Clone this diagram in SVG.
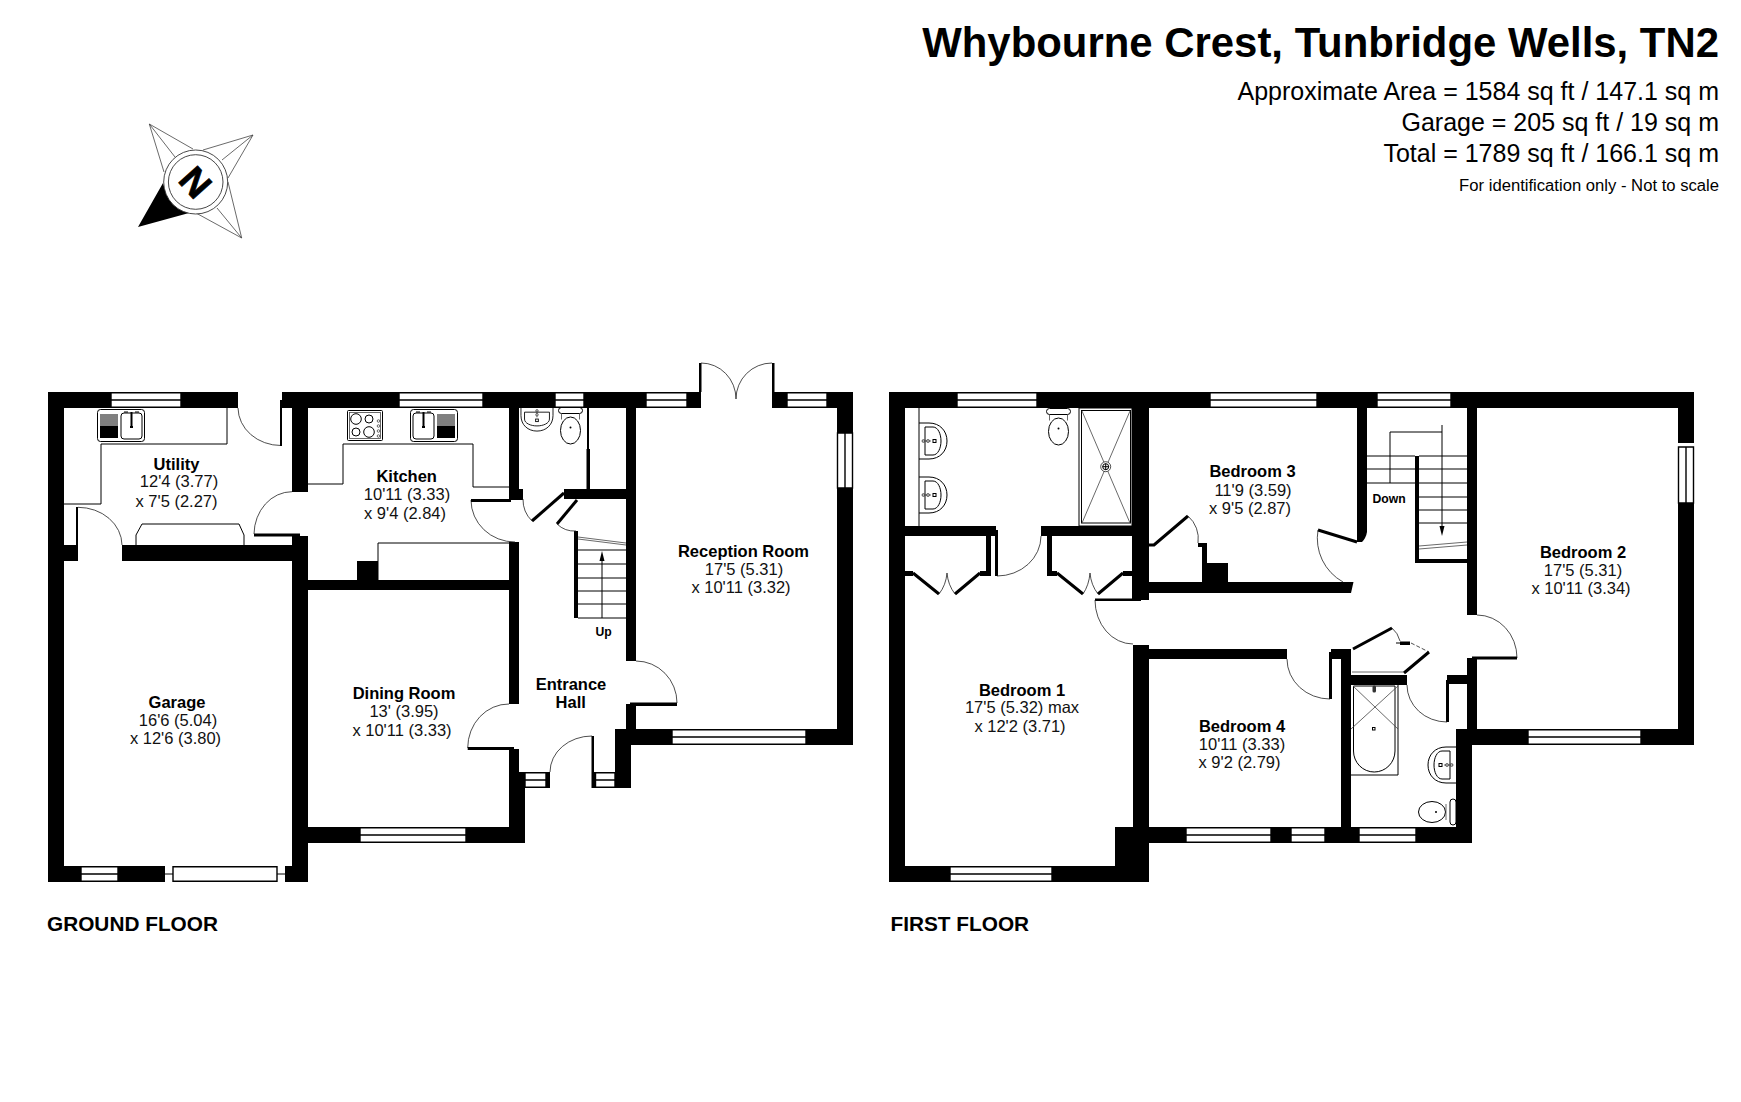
<svg xmlns="http://www.w3.org/2000/svg" xmlns:xlink="http://www.w3.org/1999/xlink" width="1741" height="1102" viewBox="0 0 1741 1102">
<style>
text{font-family:"Liberation Sans",Arial,sans-serif;fill:#000}
.n{font-weight:700;font-size:16.5px;text-anchor:middle}
.d{font-size:16.5px;text-anchor:middle;fill:#111}
.s{font-weight:700;font-size:12.2px;text-anchor:middle}
.f{font-weight:700;font-size:20.8px}
.r{text-anchor:end}
.wall{fill:#000}
.win{fill:#fff;stroke:#000;stroke-width:1.4}
.t{fill:none;stroke:#000;stroke-width:1}
.a{fill:none;stroke:#222;stroke-width:.8}
.g{fill:none;stroke:#444;stroke-width:.8}
.l{fill:none;stroke:#000;stroke-width:3}
</style>
<defs>
<g id="sink">
<rect class="t" x=".5" y=".5" width="47" height="32" rx="3"/>
<path class="t" d="M3 6H21M3 8H21M3 10H21M3 12H21M3 14H21M3 16H21"/>
<rect x="3" y="17" width="18" height="12" fill="#000"/>
<rect class="t" x="24" y="4" width="21" height="26" rx="3"/>
<path d="M34.500 3V18" stroke="#000" stroke-width="2" fill="none"/>
<path class="t" d="M27 3H31M38 3H42"/>
<rect x="33" y="17" width="3" height="2" fill="#000"/>
</g>
<g id="basin">
<path class="t" d="M0 0H10C21 0 28 8 28 18C28 28 21 36 10 36H0"/>
<path class="t" d="M6 4H14C19 4 22 11 22 18C22 25 19 32 14 32H6Z"/>
<path class="g" d="M3 18H12"/>
<circle class="g" cx="4.500" cy="18" r="1.500"/>
<circle class="g" cx="9" cy="18" r="1.500"/>
<rect class="t" x="14" y="16.500" width="3" height="3"/>
</g>
<g id="toilet">
<rect class="t" x="-12" y="0" width="24" height="6" rx="3"/>
<path class="g" d="M-9 6V12M9 6V12"/>
<ellipse class="t" cx="0" cy="23" rx="10" ry="13.500"/>
<circle cx="0" cy="20" r="1" fill="#000"/>
</g>
</defs>
<rect width="1741" height="1102" fill="#fff"/>

<g id="title">
<text x="1719" y="57" class="r" font-size="41.900" font-weight="700">Whybourne Crest, Tunbridge Wells, TN2</text>
<text x="1719" y="100" class="r" font-size="25">Approximate Area = 1584 sq ft / 147.1 sq m</text>
<text x="1719" y="131" class="r" font-size="25">Garage = 205 sq ft / 19 sq m</text>
<text x="1719" y="161.500" class="r" font-size="25">Total = 1789 sq ft / 166.1 sq m</text>
<text x="1719" y="190.500" class="r" font-size="16.650">For identification only - Not to scale</text>
</g>

<g id="compass">
<path class="g" d="M149.300 124L164 172M149.300 124L193 149M149.300 124L175 157M253 135L203 150M253 135L228 178M253 135L222 160M241.700 238L228 182M241.700 238L196 213M241.700 238L217 208"/>
<path d="M138 227L163 183C166 197 174 208 189 213Z" fill="#000"/>
<circle cx="195.700" cy="182" r="32" fill="#fff" stroke="#333" stroke-width=".9"/>
<circle cx="195.700" cy="182" r="27.300" fill="none" stroke="#333" stroke-width=".9"/>
<text transform="translate(196 182) rotate(48)" x="0" y="13.500" font-size="37" font-weight="700" text-anchor="middle" stroke="#000" stroke-width=".8">N</text>
</g>

<g id="ground-floor">
<g id="gf-walls" class="wall">
<rect x="48" y="392" width="190" height="16"/>
<rect x="282" y="392" width="419" height="16"/>
<rect x="772" y="392" width="81" height="16"/>
<rect x="48" y="392" width="16" height="490"/>
<rect x="48" y="866" width="117" height="16"/>
<rect x="285" y="866" width="23" height="16"/>
<rect x="292" y="536" width="16" height="346"/>
<rect x="292" y="392" width="16" height="100"/>
<rect x="122" y="545" width="176" height="16"/>
<rect x="64" y="545" width="14" height="16"/>
<rect x="308" y="827" width="217" height="16"/>
<rect x="308" y="580" width="201" height="10"/>
<rect x="357" y="561" width="21" height="21"/>
<rect x="509" y="392" width="10" height="108"/>
<rect x="509" y="489" width="14" height="11"/>
<rect x="509" y="542" width="10" height="162"/>
<rect x="509" y="749" width="10" height="25"/>
<rect x="509" y="772" width="16" height="71"/>
<rect x="626" y="392" width="10" height="269"/>
<rect x="626" y="704" width="10" height="26"/>
<rect x="564" y="489" width="62" height="10"/>
<rect x="615" y="729" width="238" height="16"/>
<rect x="615" y="729" width="16" height="59"/>
<rect x="837" y="392" width="16" height="41"/>
<rect x="837" y="488" width="16" height="257"/>
<rect x="546" y="772" width="4" height="16"/>
<rect x="591.500" y="772" width="4" height="16"/>
<rect x="574" y="531" width="4" height="87"/>
<rect x="586.500" y="449" width="3.500" height="40"/>
</g>
<g id="gf-windows">
<path class="win" d="M111 392.700H181V407.300H111ZM111 400H181"/>
<path class="win" d="M399 392.700H483V407.300H399ZM399 400H483"/>
<path class="win" d="M555 392.700H584V407.300H555ZM555 400H584"/>
<path class="win" d="M646 392.700H687V407.300H646ZM646 400H687"/>
<path class="win" d="M787 392.700H827V407.300H787ZM787 400H827"/>
<path class="win" d="M837.500 433H852.500V488H837.500ZM845 433V488"/>
<path class="win" d="M672 729.700H806V744.300H672ZM672 737H806"/>
<path class="win" d="M360 827.700H466V842.300H360ZM360 835H466"/>
<path class="win" d="M81 866.700H118V881.300H81ZM81 874H118"/>
<path class="win" d="M525 772.700H546V787.300H525ZM525 780H546"/>
<path class="win" d="M595.500 772.700H615V787.300H595.500ZM595.500 780H615"/>
<path class="win" d="M173 866.700H277V881.300H173Z"/>
<path class="t" d="M165 874H173M277 874H285"/>
</g>
<g id="gf-doors">
<path class="a" d="M78 507.300A44 38 0 0 1 122 545"/>
<path d="M76 507V546H78V507Z" fill="#000"/>
<path class="a" d="M238 408A43 38 0 0 0 281 445.500"/>
<path d="M280 400H282V446H280Z" fill="#000"/>
<path class="a" d="M292 491.700A38 43 0 0 0 254 534"/>
<path d="M254 533.500H300V536.500H254Z" fill="#000"/>
<path class="a" d="M471 500A44 42 0 0 0 515 542"/>
<path d="M471 499H511V502H471Z" fill="#000"/>
<path class="a" d="M509 704A41 44 0 0 0 467.700 748"/>
<path d="M467.700 747H514V750H467.700Z" fill="#000"/>
<path class="a" d="M636 661A41 42 0 0 1 677 703"/>
<path d="M630 702.500H677V706H630Z" fill="#000"/>
<path class="a" d="M550 772A42 36 0 0 1 592 736"/>
<path d="M591.500 736H594V772H591.500Z" fill="#000"/>
<path class="a" d="M701 363A35 36 0 0 1 736 399"/>
<path class="a" d="M772 363A36 36 0 0 0 736 399"/>
<path d="M699 363H701.500V392H699ZM772 363H774.500V398H772Z" fill="#000"/>
<path class="l" d="M564 493L532 521"/>
<path class="a" d="M532 521A30 30 0 0 1 523 499"/>
<path class="l" d="M577 500L557 524"/>
<path class="a" d="M557 524A25 25 0 0 0 576 531"/>
<path d="M587 407.500H589V449H587Z" fill="#000"/>
</g>
<g id="gf-fittings">
<path class="t" d="M64 504H101V444H227V408"/>
<path class="t" d="M136 545V535L142 524H239L244 535V545"/>
<use xlink:href="#sink" href="#sink" x="97" y="409"/>
<path class="t" d="M308 484H343V444H473V487H509"/>
<rect class="t" x="347.500" y="410.500" width="35" height="30" rx="1"/>
<rect class="g" x="349.500" y="412.500" width="31" height="26"/>
<circle class="t" cx="356" cy="419" r="5.300"/>
<circle class="t" cx="369" cy="419" r="4"/>
<circle class="t" cx="356" cy="432" r="4"/>
<circle class="t" cx="369" cy="432" r="5.300"/>
<circle class="g" cx="378.500" cy="421" r="1.300"/>
<circle class="g" cx="378.500" cy="426" r="1.300"/>
<circle class="g" cx="378.500" cy="431" r="1.300"/>
<circle class="g" cx="378.500" cy="436" r="1.300"/>
<use xlink:href="#sink" href="#sink" transform="translate(458 409) scale(-1 1)"/>
<path class="t" d="M378 580V543H509"/>
<use xlink:href="#basin" href="#basin" transform="translate(553 407) rotate(90) scale(.86 .89)"/>
<use xlink:href="#toilet" href="#toilet" x="570.500" y="407.500"/>
</g>
<g id="gf-stairs">
<path class="g" d="M578 537L626 543M578 539L626 545"/>
<path class="t" d="M578 550H626M578 564H626M578 578H626M578 591H626M578 604H626M578 618H626M602 618V555"/>
<path d="M602 551L604.500 561H599.500Z" fill="#000"/>
</g>
<g id="gf-labels">
<text class="n" x="176.500" y="469.700">Utility</text>
<text class="d" x="179" y="487">12'4 (3.77)</text>
<text class="d" x="176.500" y="506.500">x 7'5 (2.27)</text>
<text class="n" x="406.700" y="481.500">Kitchen</text>
<text class="d" x="407" y="499.700">10'11 (3.33)</text>
<text class="d" x="405" y="519">x 9'4 (2.84)</text>
<text class="n" x="177" y="707.700">Garage</text>
<text class="d" x="178" y="725.700">16'6 (5.04)</text>
<text class="d" x="175.500" y="744">x 12'6 (3.80)</text>
<text class="n" x="404" y="698.500">Dining Room</text>
<text class="d" x="404" y="717">13' (3.95)</text>
<text class="d" x="402" y="736">x 10'11 (3.33)</text>
<text class="n" x="743.500" y="556.500">Reception Room</text>
<text class="d" x="744" y="574.700">17'5 (5.31)</text>
<text class="d" x="741" y="593">x 10'11 (3.32)</text>
<text class="n" x="571" y="690">Entrance</text>
<text class="n" x="570.700" y="708">Hall</text>
<text class="s" x="603.700" y="635.500">Up</text>
<text class="f" x="47" y="931">GROUND FLOOR</text>
</g>
</g>

<g id="first-floor">
<g id="ff-walls" class="wall">
<rect x="889" y="392" width="805" height="16"/>
<rect x="889" y="392" width="16" height="490"/>
<rect x="889" y="866" width="260" height="16"/>
<rect x="1133" y="645" width="16" height="237"/>
<rect x="1115" y="827" width="34" height="55"/>
<rect x="1115" y="827" width="357" height="16"/>
<rect x="1678" y="392" width="16" height="51"/>
<rect x="1678" y="503" width="16" height="242"/>
<rect x="1456" y="729" width="238" height="16"/>
<rect x="1467" y="392" width="10" height="223"/>
<rect x="1467" y="658" width="10" height="72"/>
<rect x="1447" y="675" width="20" height="9"/>
<rect x="1446" y="680" width="3" height="42"/>
<rect x="1456" y="729" width="16" height="114"/>
<rect x="1132" y="392" width="17" height="208"/>
<rect x="905" y="526" width="91" height="10"/>
<rect x="1041" y="526" width="91" height="10"/>
<rect x="986" y="536" width="5" height="40"/>
<rect x="995" y="530" width="3" height="46"/>
<rect x="1047" y="536" width="5" height="40"/>
<rect x="905" y="571" width="8" height="5"/>
<rect x="980" y="571" width="11" height="5"/>
<rect x="1047" y="571" width="10" height="5"/>
<rect x="1123" y="571" width="9" height="5"/>
<rect x="1149" y="649" width="138" height="10"/>
<rect x="1331" y="649" width="20" height="10"/>
<rect x="1329" y="652" width="3" height="47"/>
<rect x="1341" y="649" width="10" height="178"/>
<rect x="1351" y="675" width="56" height="10"/>
<path d="M1149 582H1353.500L1351 593H1149Z"/>
<path d="M1198 543H1207V563H1228V582H1202V547H1198Z"/>
<path d="M1357 392H1367V532Q1366 538 1362 542H1357Z"/>
<rect x="1415" y="456" width="4" height="107"/>
<rect x="1415" y="559" width="52" height="4"/>
<rect x="1095" y="598.500" width="46" height="2.500"/>
</g>
<g id="ff-windows">
<path class="win" d="M957 392.700H1037V407.300H957ZM957 400H1037"/>
<path class="win" d="M1210 392.700H1317V407.300H1210ZM1210 400H1317"/>
<path class="win" d="M1377 392.700H1451V407.300H1377ZM1377 400H1451"/>
<path class="win" d="M1678.500 447H1693.500V503H1678.500ZM1686 447V503"/>
<path class="win" d="M1528 729.700H1641V744.300H1528ZM1528 737H1641"/>
<path class="win" d="M1186 827.700H1271V842.300H1186ZM1186 835H1271"/>
<path class="win" d="M1291 827.700H1325V842.300H1291ZM1291 835H1325"/>
<path class="win" d="M1359 827.700H1416V842.300H1359ZM1359 835H1416"/>
<path class="win" d="M950 866.700H1052V881.300H950ZM950 874H1052"/>
</g>
<g id="ff-doors">
<path class="a" d="M997 576A44 40 0 0 0 1041 536"/>
<path class="l" d="M913 573L939 594M980 573L955 594M1057 573L1083 594M1123 573L1098 594"/>
<path class="a" d="M939 594Q946 585 947 573Q948 585 955 594M1083 594Q1089 585 1090 573Q1091 585 1098 594"/>
<path class="a" d="M1095 600A38 44 0 0 0 1133 644"/>
<path class="l" d="M1149 545H1154L1188 516"/>
<path class="a" d="M1188 516A30 30 0 0 1 1198 543"/>
<path class="l" d="M1318 530L1357 542"/>
<path class="a" d="M1318 530A50 50 0 0 0 1343 582"/>
<path class="a" d="M1477 615A40 43 0 0 1 1517 658"/>
<path d="M1472 656.500H1517V659.500H1472Z" fill="#000"/>
<path class="a" d="M1287 659A43 40 0 0 0 1330 699"/>
<path class="a" d="M1407 685A40 37 0 0 0 1447 722"/>
<path class="l" d="M1353 649L1392 628M1429 652L1404 673"/>
<path class="a" d="M1392 628Q1398 633 1400 641"/>
<path d="M1396 642.500H1400V641.500H1410V645H1400V643.500H1396Z" fill="#000"/>
<path class="a" d="M1411 643L1429 652" stroke-dasharray="4 2"/>
<path class="g" d="M1352 672H1404"/>
</g>
<g id="ff-fittings">
<path class="t" d="M919 408V526"/>
<use xlink:href="#basin" href="#basin" x="919" y="423"/>
<use xlink:href="#basin" href="#basin" x="919" y="477"/>
<use xlink:href="#toilet" href="#toilet" x="1058.500" y="408.500"/>
<rect class="t" x="1079" y="408" width="53" height="118"/>
<rect class="t" x="1081.500" y="410.500" width="49" height="112.500" stroke-width="1.500"/>
<path class="g" d="M1082 411L1130 523M1130 411L1082 523"/>
<circle cx="1105.700" cy="466.700" r="5" fill="#fff" stroke="#222" stroke-width=".8"/>
<circle cx="1105.700" cy="466.700" r="3" fill="none" stroke="#000" stroke-width="1"/>
<path class="t" d="M1102.500 466.700H1109M1105.700 463.500V470"/>
<path class="t" d="M1351 775H1398V685"/>
<path class="t" d="M1353.500 686H1395V751A20.750 21 0 0 1 1353.500 751Z"/>
<path class="g" d="M1353 686L1398 729M1398 686L1351 729"/>
<rect x="1372.500" y="685.500" width="3.500" height="7" rx="1.500" fill="#333"/>
<rect class="t" x="1372.500" y="727.500" width="2.500" height="2.500"/>
<use xlink:href="#basin" href="#basin" transform="translate(1456 747) scale(-1 1)"/>
<ellipse class="t" cx="1432" cy="812" rx="13.500" ry="10.500"/>
<circle cx="1436" cy="812" r="1" fill="#000"/>
<path class="g" d="M1446 804V820"/>
<rect class="t" x="1450" y="799" width="6" height="26" rx="3"/>
</g>
<g id="ff-stairs">
<path class="t" d="M1390 483V432H1442M1442 425V526"/>
<path d="M1442 536L1439.500 526H1444.500Z" fill="#000"/>
<path class="t" d="M1367 456H1415M1367 469H1415M1367 483H1415M1419 456H1467M1419 469H1467M1419 483H1467M1419 497H1467M1419 510H1467M1419 523H1467"/>
<path class="g" d="M1419 546L1467 542M1419 549L1467 545"/>
</g>
<g id="ff-labels">
<text class="n" x="1252.500" y="477.200">Bedroom 3</text>
<text class="d" x="1253" y="496">11'9 (3.59)</text>
<text class="d" x="1250" y="514">x 9'5 (2.87)</text>
<text class="n" x="1583" y="557.500">Bedroom 2</text>
<text class="d" x="1583" y="576">17'5 (5.31)</text>
<text class="d" x="1581" y="594">x 10'11 (3.34)</text>
<text class="n" x="1242" y="731.500">Bedroom 4</text>
<text class="d" x="1242" y="749.700">10'11 (3.33)</text>
<text class="d" x="1239.500" y="768">x 9'2 (2.79)</text>
<text class="n" x="1022" y="695.500">Bedroom 1</text>
<text class="d" x="1022" y="713">17'5 (5.32) max</text>
<text class="d" x="1020" y="732">x 12'2 (3.71)</text>
<text class="s" x="1389" y="502.500">Down</text>
<text class="f" x="890.500" y="931">FIRST FLOOR</text>
</g>
</g>
</svg>
